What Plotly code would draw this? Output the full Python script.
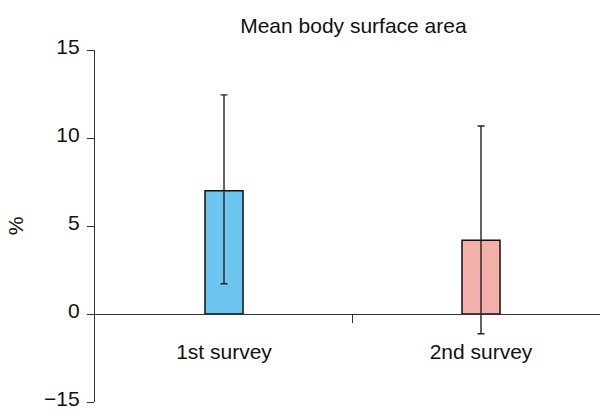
import plotly.graph_objects as go

categories = ["1st survey", "2nd survey"]
means = [7.0, 4.19]
upper_limits = [12.45, 10.68]
lower_limits = [1.72, -1.12]
bar_colors = ["#6CC6EF", "#F4B1AC"]
y_tickvals = [-5, 0, 5, 10, 15]
y_ticktext = ["\u221215", "0", "5", "10", "15"]

err_plus = [u - m for u, m in zip(upper_limits, means)]
err_minus = [m - l for m, l in zip(means, lower_limits)]

font_family = "Arial, 'Liberation Sans', sans-serif"
axis_color = "#333333"
fs = 21

fig = go.Figure()
fig.add_trace(go.Bar(
    x=[0, 1],
    y=means,
    width=0.148,
    marker=dict(color=bar_colors, line=dict(color="#111111", width=1.5)),
    error_y=dict(type="data", symmetric=False, array=err_plus, arrayminus=err_minus,
                 color="#222222", thickness=1.4, width=3.5),
    showlegend=False,
))

fig.update_layout(
    width=600, height=410,
    margin=dict(l=95, r=0, t=50, b=8, autoexpand=False),
    paper_bgcolor="white", plot_bgcolor="white",
    font=dict(family=font_family, size=fs, color="#111111"),
    title=dict(text="Mean body surface area", x=0.589, xref="container", xanchor="center",
               y=0.937, yref="container", yanchor="middle",
               font=dict(size=fs, family=font_family, color="#111111")),
    xaxis=dict(
        range=[-0.502, 1.463],
        tickvals=[0, 1], ticktext=categories,
        ticks="", showgrid=False, zeroline=False,
        showline=True, linecolor=axis_color, linewidth=1.4,
        anchor="free", position=0.25,
        ticklabelstandoff=19,
        automargin=False,
        minor=dict(tickvals=[0.5], ticks="outside", ticklen=8, tickcolor=axis_color, tickwidth=1.2),
        tickfont=dict(size=fs),
    ),
    yaxis=dict(
        range=[-5, 15],
        tickvals=y_tickvals, ticktext=y_ticktext,
        ticks="outside", ticklen=7, tickcolor=axis_color, tickwidth=1.2,
        showline=True, linecolor=axis_color, linewidth=1.4,
        showgrid=False, zeroline=False,
        ticklabelstandoff=3,
        ticklabelshift=-3,
        ticklabeloverflow="allow",
        automargin=False,
        tickfont=dict(size=fs),
        title=dict(text="%", standoff=14, font=dict(size=fs)),
    ),
)

fig.write_html("out.html")
